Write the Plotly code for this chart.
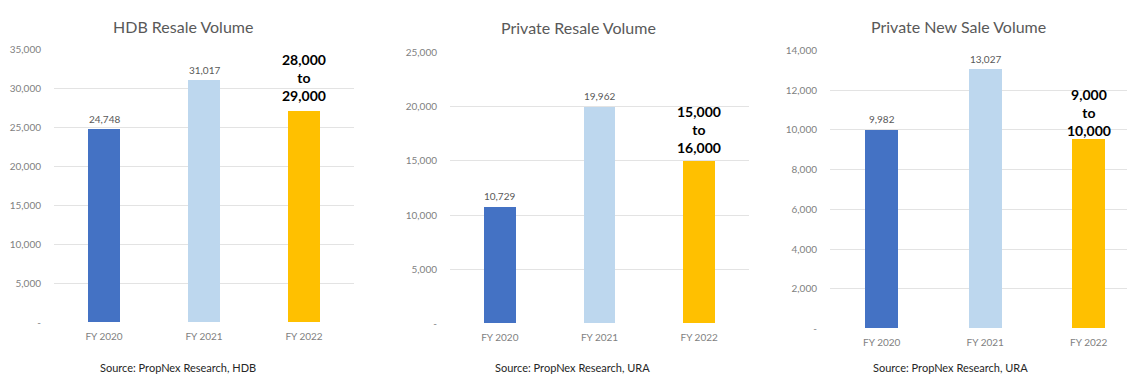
import plotly.graph_objects as go

W, H = 1127, 380
years = ["FY 2020", "FY 2021", "FY 2022"]

hdb_values = [24748, 31017, 27000]
hdb_labels = ["24,748", "31,017", ""]
hdb_forecast = "28,000<br>to<br>29,000"

pr_values = [10729, 19962, 15000]
pr_labels = ["10,729", "19,962", ""]
pr_forecast = "15,000<br>to<br>16,000"

pn_values = [9982, 13027, 9500]
pn_labels = ["9,982", "13,027", ""]
pn_forecast = "9,000<br>to<br>10,000"

titles = ["HDB Resale Volume", "Private Resale Volume", "Private New Sale Volume"]
sources = ["Source: PropNex Research, HDB", "Source: PropNex Research, URA",
           "Source: PropNex Research, URA"]

hdb_ticks = [0, 5000, 10000, 15000, 20000, 25000, 30000, 35000]
pr_ticks = [0, 5000, 10000, 15000, 20000, 25000]
pn_ticks = [0, 2000, 4000, 6000, 8000, 10000, 12000, 14000]

colors = ["#4472C4", "#BDD7EE", "#FFC000"]
FONT = "Lato"
GRAY = "#7F7F7F"

def fmt(v):
    return "-" if v == 0 else f"{v:,}"

panels = [
    dict(vals=hdb_values, labels=hdb_labels, fc=hdb_forecast, ticks=hdb_ticks, fshift=6,
         xpx=(54, 354), ypx=(327, 44), xr=[-0.5, 2.5], title_xy=(183, 20), src_xy=(178, 373)),
    dict(vals=pr_values, labels=pr_labels, fc=pr_forecast, ticks=pr_ticks, fshift=3,
         xpx=(450, 749), ypx=(328, 47), xr=[-0.5, 2.5], title_xy=(578, 21), src_xy=(572, 373)),
    dict(vals=pn_values, labels=pn_labels, fc=pn_forecast, ticks=pn_ticks, fshift=-1,
         xpx=(830, 1127), ypx=(333, 45), xr=[-0.5, 2.37], title_xy=(958, 20), src_xy=(950, 373)),
]

fig = go.Figure()
annotations = []
for i, p in enumerate(panels):
    n = "" if i == 0 else str(i + 1)
    xa, ya = "x" + n, "y" + n
    fig.add_trace(go.Bar(x=[0, 1, 2], y=p["vals"], marker=dict(color=colors, line=dict(width=0)),
                         width=0.32, xaxis=xa, yaxis=ya, showlegend=False, hoverinfo="y"))
    for j, (v, lab) in enumerate(zip(p["vals"], p["labels"])):
        if lab:
            annotations.append(dict(x=j, y=v, xref=xa, yref=ya, text=lab, showarrow=False,
                                    yanchor="bottom", yshift=3,
                                    font=dict(family=FONT, size=10, color="#595959")))
    annotations.append(dict(x=2, y=p["vals"][2], xref=xa, yref=ya,
                            text="<b>" + p["fc"].replace("<br>", "</b><br><b>") + "</b>",
                            showarrow=False, yanchor="bottom", yshift=p["fshift"],
                            font=dict(family=FONT, size=14, color="#000000")))
    annotations.append(dict(x=p["title_xy"][0] / W, y=1 - p["title_xy"][1] / H, xref="paper", yref="paper",
                            text=titles[i], showarrow=False, xanchor="center", yanchor="middle",
                            font=dict(family=FONT, size=16, color="#595959")))
    annotations.append(dict(x=p["src_xy"][0] / W, y=1 - p["src_xy"][1] / H, xref="paper", yref="paper",
                            text=sources[i], showarrow=False, xanchor="center", yanchor="middle",
                            font=dict(family=FONT, size=11, color="#262626")))
    xkey = "xaxis" + n
    ykey = "yaxis" + n
    fig.layout[xkey] = dict(domain=[p["xpx"][0] / W, min(p["xpx"][1] / W, 1)], range=p["xr"],
                            tickvals=[0, 1, 2], ticktext=years, anchor=ya,
                            showgrid=False, zeroline=False, showline=False, ticks="",
                            ticklabelstandoff=6,
                            tickfont=dict(family=FONT, size=10, color=GRAY), fixedrange=True)
    fig.layout[ykey] = dict(domain=[1 - p["ypx"][0] / H, 1 - p["ypx"][1] / H],
                            range=[0, p["ticks"][-1]], tickvals=p["ticks"],
                            ticktext=[fmt(t) for t in p["ticks"]], anchor=xa,
                            showgrid=True, gridcolor="#E3E3E3", gridwidth=1,
                            zeroline=False, showline=False, ticks="",
                            ticklabelstandoff=12,
                            tickfont=dict(family=FONT, size=10, color=GRAY), fixedrange=True)

fig.update_layout(width=W, height=H, margin=dict(l=0, r=0, t=0, b=0),
                  paper_bgcolor="white", plot_bgcolor="white",
                  annotations=annotations, bargap=0)
fig.write_html("out.html", config={"displayModeBar": False})
